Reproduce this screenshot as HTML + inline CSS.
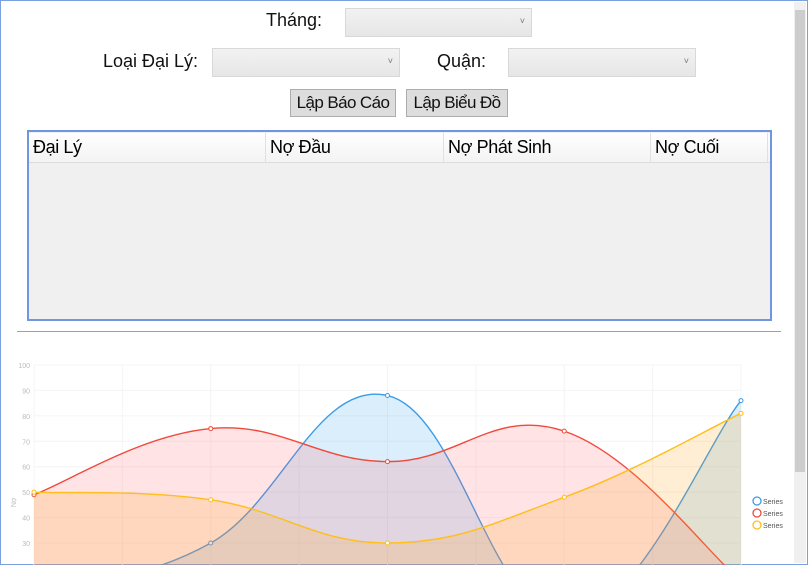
<!DOCTYPE html>
<html><head><meta charset="utf-8"><style>
body{margin:0;width:808px;height:565px;overflow:hidden;background:#fff;font-family:"Liberation Sans","Noto Sans CJK SC",sans-serif;position:relative}
.abs{position:absolute;white-space:nowrap}
.lbl{font-size:18px;color:#111}
.combo{background:linear-gradient(#f2f2f2,#e6e6e6);border:1px solid #d8d8d8;box-sizing:border-box}
.combo span{position:absolute;right:6px;top:7px;font-size:9px;color:#777}
.btn{background:#dddddd;border:1px solid #adadad;box-sizing:border-box;font-size:17px;text-align:center;line-height:26px;color:#111;overflow:hidden;letter-spacing:-0.6px}
.th{position:absolute;top:0;height:29px;font-size:18px;line-height:29px;border-right:1px solid #e0e0e0;padding-left:4px;box-sizing:border-box;letter-spacing:-0.4px}
</style></head><body>
<div class="abs" style="left:0;top:0;width:806px;height:563px;border:1px solid #7aa0e0"></div>
<div class="abs lbl" style="left:266px;top:10px">Tháng:</div>
<div class="abs combo" style="left:345px;top:8px;width:187px;height:29px"><span>˅</span></div>
<div class="abs lbl" style="left:103px;top:51px">Loại Đại Lý:</div>
<div class="abs combo" style="left:212px;top:48px;width:188px;height:29px"><span>˅</span></div>
<div class="abs lbl" style="left:437px;top:51px">Quận:</div>
<div class="abs combo" style="left:508px;top:48px;width:188px;height:29px"><span>˅</span></div>
<div class="abs btn" style="left:290px;top:89px;width:106px;height:28px">Lập Báo Cáo</div>
<div class="abs btn" style="left:406px;top:89px;width:102px;height:28px">Lập Biểu Đồ</div>
<div class="abs" style="left:27px;top:130px;width:745px;height:191px;border:2px solid #6d97e0;box-sizing:border-box;background:#f0f0f0;overflow:hidden">
 <div class="abs" style="left:0;top:1px;width:741px;height:29px;background:linear-gradient(#fff,#f3f3f3);border-bottom:1px solid #ddd">
  <div class="th" style="left:0;width:237px">Đại Lý</div>
  <div class="th" style="left:237px;width:178px">Nợ Đầu</div>
  <div class="th" style="left:415px;width:207px">Nợ Phát Sinh</div>
  <div class="th" style="left:622px;width:117px">Nợ Cuối</div>
 </div>
</div>
<div class="abs" style="left:17px;top:331px;width:764px;height:1px;background:#a0a0a0"></div>
<div class="abs" style="left:794px;top:2px;width:12px;height:561px;background:#f0f0f0">
 <div class="abs" style="left:1px;top:8px;width:10px;height:462px;background:#cdcdcd"></div>
</div>
<svg class="abs" id="chart" style="left:0;top:340px;overflow:hidden" width="790" height="225"></svg>
<script>
const categories=["1","2","3","4","5"];
const seriesBlue=[10,30,88,0,86];
const seriesRed=[49,75,62,74,15];
const seriesYellow=[50,47,30,48,81];
const yTicks=[30,40,50,60,70,80,90,100];
const legendLabels=["Series","Series","Series"];
const svg=document.getElementById('chart');
const NS='http://www.w3.org/2000/svg';
const x0=34,dx=176.75,top0=25,ppu=2.543;
const X=i=>x0+i*dx, Y=v=>top0+(100-v)*ppu;
function mk(t,a){const e=document.createElementNS(NS,t);for(const k in a)e.setAttribute(k,a[k]);svg.appendChild(e);return e;}
for(const v of yTicks){const g=mk('line',{x1:x0,x2:X(4),y1:Y(v),y2:Y(v),stroke:'#f4f4f4'});


const t=mk('text',{x:30,y:Y(v)+3,'font-size':7,fill:'#bbb','text-anchor':'end','font-family':'Liberation Sans'});t.textContent=v;

}
for(let i=0;i<=8;i++){const g=mk('line',{x1:x0+i*dx/2,x2:x0+i*dx/2,y1:Y(100),y2:225,stroke:'#f4f4f4'});

}
const yt=mk('text',{x:0,y:0,'font-size':7,fill:'#bbb',transform:'translate(16,'+Y(46)+') rotate(-90)','text-anchor':'middle','font-family':'Liberation Sans'});yt.textContent='Nợ';


function path(vals){const p=vals.map((v,i)=>[X(i),Y(v)]);let d='M'+p[0];const t=0.4;
for(let i=0;i<p.length-1;i++){const a=p[i-1]||p[i],b=p[i],c=p[i+1],e=p[i+2]||c;
d+=' C'+(b[0]+(c[0]-a[0])*t/2)+','+(b[1]+(c[1]-a[1])*t/2)+' '+(c[0]-(e[0]-b[0])*t/2)+','+(c[1]-(e[1]-b[1])*t/2)+' '+c[0]+','+c[1];}return d;}
const series=[[seriesBlue,'#3a9be8','rgba(54,162,235,0.18)','series-blue'],[seriesRed,'#f04a3c','rgba(255,99,110,0.18)','series-red'],[seriesYellow,'#ffbe1a','rgba(255,170,40,0.2)','series-yellow']];
for(const [vals,c,f,n] of series){const d=path(vals);
const a=mk('path',{d:d+' L'+X(4)+',225 L'+X(0)+',225 Z',fill:f});


const l=mk('path',{d:d,fill:'none',stroke:c,'stroke-width':1.4});


vals.forEach((v,i)=>{const p=mk('circle',{cx:X(i),cy:Y(v),r:2,fill:'#fff',stroke:c,'stroke-width':1});

});}
series.forEach((s,i)=>{const y=161+i*12;const c=mk('circle',{cx:757,cy:y,r:4,fill:'none',stroke:s[1],'stroke-width':1.3});


const t=mk('text',{x:763,y:y+3,'font-size':7,fill:'#555','font-family':'Liberation Sans'});t.textContent=legendLabels[i];

});
</script>
</body></html>
